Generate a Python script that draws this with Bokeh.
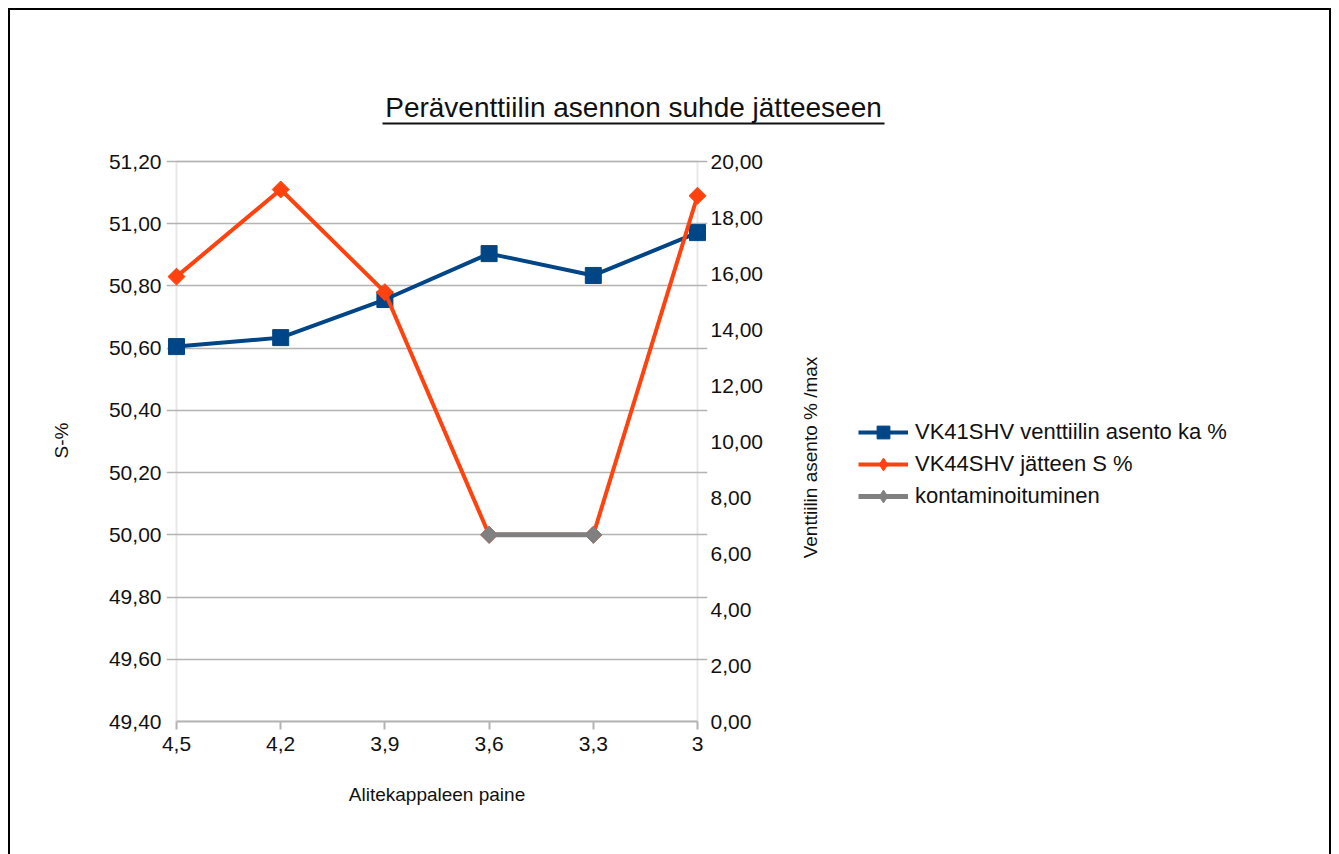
from bokeh.plotting import figure
from bokeh.layouts import column, row
from bokeh.models import (Range1d, LinearAxis, FixedTicker, CustomJSTickFormatter,
                          Legend, LegendItem, Label, BoxAnnotation)
from bokeh.embed import file_html
from bokeh.resources import INLINE
import math

# ---- data ----
pressure = [4.5, 4.2, 3.9, 3.6, 3.3, 3.0]          # Alitekappaleen paine
valve_pos = [13.39, 13.71, 15.07, 16.71, 15.93, 17.46]  # VK41SHV venttiilin asento ka % (right axis)
waste_s = [50.83, 51.11, 50.78, 50.00, 50.00, 51.09]    # VK44SHV jätteen S % (left axis)
contam_x = [3.6, 3.3]
contam_y = [50.00, 50.00]                           # kontaminoituminen
left_ticks = [49.4, 49.6, 49.8, 50.0, 50.2, 50.4, 50.6, 50.8, 51.0, 51.2]
right_ticks = [0, 2, 4, 6, 8, 10, 12, 14, 16, 18, 20]

title_text = "Peräventtiilin asennon suhde jätteeseen"
labels = ["VK41SHV venttiilin asento ka %", "VK44SHV jätteen S %", "kontaminoituminen"]
right_axis_title = "Venttiilin asento % /max"

FONT = "Liberation Sans"
BLUE = "#004586"
ORANGE = "#ff420e"
GRAY = "#808080"
AXIS_GRAY = "#b3b3b3"
TXT = "#111111"

X_LO, X_HI = 3.0, 4.5
Y_LO, Y_HI = 49.4, 51.2
R_LO, R_HI = 0, 20
px_x = (X_HI - X_LO) / 521.0
px_y = (Y_HI - Y_LO) / 560.0
px_r = (R_HI - R_LO) / 560.0
PAD = 10      # horizontal padding so edge markers are not clipped
TPAD = 2

TOTAL_W = 1319
TITLE_H = 120
MAIN_W = 780
MAIN_H = 724

# ---------- title strip ----------
t = figure(width=TOTAL_W, height=TITLE_H, x_range=Range1d(0, 1), y_range=Range1d(0, 1),
           x_axis_type=None, y_axis_type=None, output_backend="svg", toolbar_location=None,
           min_border=0)
t.outline_line_color = None
t.grid.visible = False
t.add_layout(Label(x=623, y=23, x_units="screen", y_units="screen", text=title_text,
                   text_font=FONT, text_font_size="28px", text_align="center",
                   text_baseline="middle", text_color=TXT))
t.add_layout(BoxAnnotation(left=372, right=874, top=8, bottom=6,
                           left_units="screen", right_units="screen",
                           top_units="screen", bottom_units="screen",
                           fill_color=TXT, fill_alpha=1, line_color=None))

# ---------- main chart ----------
p = figure(width=MAIN_W, height=MAIN_H,
           x_range=Range1d(X_HI + PAD * px_x, X_LO - PAD * px_x),
           y_range=Range1d(Y_LO, Y_HI + TPAD * px_y),
           output_backend="svg", toolbar_location=None,
           min_border_left=156, min_border_right=MAIN_W - 156 - 541,
           min_border_top=29, min_border_bottom=133)
p.outline_line_color = None
p.extra_y_ranges = {"right": Range1d(R_LO, R_HI + TPAD * px_r)}

yfmt = CustomJSTickFormatter(code="return tick.toFixed(2).replace('.', ',');")
xfmt = CustomJSTickFormatter(code=(
    "return (Math.abs(tick - Math.round(tick)) < 1e-9) ? Math.round(tick).toString()"
    " : tick.toFixed(1).replace('.', ',');"))

def style_axis(ax):
    ax.axis_line_color = AXIS_GRAY
    ax.axis_line_width = 2
    ax.major_tick_line_color = AXIS_GRAY
    ax.major_tick_line_width = 2
    ax.major_tick_out = 8
    ax.major_tick_in = 0
    ax.minor_tick_line_color = None
    ax.major_label_text_font = FONT
    ax.major_label_text_font_size = "21px"
    ax.major_label_text_color = TXT
    ax.axis_label_text_font = FONT
    ax.axis_label_text_font_size = "19px"
    ax.axis_label_text_font_style = "normal"
    ax.axis_label_text_color = TXT

xa = p.xaxis[0]
xa.ticker = FixedTicker(ticks=pressure)
xa.formatter = xfmt
xa.axis_label = "Alitekappaleen paine"
xa.bounds = (X_LO, X_HI)
style_axis(xa)
xa.major_label_standoff = 7
xa.axis_label_standoff = 30

ya = p.yaxis[0]
ya.ticker = FixedTicker(ticks=left_ticks)
ya.formatter = yfmt
ya.axis_label = "S-%"
ya.bounds = (Y_LO, Y_HI)
style_axis(ya)
ya.axis_line_color = None
ya.major_tick_line_color = None
ya.major_tick_out = 0
ya.major_label_standoff = 5
ya.axis_label_standoff = 34

ra = LinearAxis(y_range_name="right", ticker=FixedTicker(ticks=right_ticks),
                formatter=yfmt, bounds=(R_LO, R_HI))
style_axis(ra)
ra.axis_line_color = None
ra.major_tick_line_color = None
ra.major_tick_out = 0
ra.major_label_standoff = 3
p.add_layout(ra, "right")

p.xgrid.grid_line_color = None
p.ygrid.ticker = FixedTicker(ticks=left_ticks)
p.ygrid.grid_line_color = AXIS_GRAY
p.ygrid.grid_line_width = 1.5

# plot-area outline (vertical axis lines)
p.add_layout(BoxAnnotation(left=X_HI, right=X_LO, bottom=Y_LO, top=Y_HI,
                           fill_alpha=0, line_color=AXIS_GRAY, line_width=2,
                           level="underlay"))

p.line(pressure, valve_pos, y_range_name="right", line_color=BLUE, line_width=4)
p.scatter(pressure, valve_pos, y_range_name="right", marker="square", size=16,
          fill_color=BLUE, line_color=BLUE)
p.line(pressure, waste_s, line_color=ORANGE, line_width=4)
p.scatter(pressure, waste_s, marker="square", angle=math.pi / 4, size=12,
          fill_color=ORANGE, line_color=ORANGE)
p.line(contam_x, contam_y, line_color=GRAY, line_width=5)
p.scatter(contam_x, contam_y, marker="square", angle=math.pi / 4, size=12,
          fill_color=GRAY, line_color=GRAY)

# ---------- right-axis title + legend panel ----------
nan = float("nan")
lg = figure(width=TOTAL_W - MAIN_W, height=MAIN_H, x_range=Range1d(0, 1),
            y_range=Range1d(0, 1), x_axis_type=None, y_axis_type=None,
            output_backend="svg", toolbar_location=None, min_border=0)
lg.outline_line_color = None
lg.grid.visible = False

lg.add_layout(Label(x=20, y=264, x_units="screen", y_units="screen",
                    text=right_axis_title, angle=math.pi / 2,
                    text_font=FONT, text_font_size="19px", text_align="center",
                    text_baseline="middle", text_color=TXT))

k1l = lg.line([nan], [nan], line_color=BLUE, line_width=4)
k1m = lg.scatter([nan], [nan], marker="square", fill_color=BLUE, line_color=BLUE)
k2l = lg.line([nan], [nan], line_color=ORANGE, line_width=4)
k2m = lg.scatter([nan], [nan], marker="diamond", fill_color=ORANGE, line_color=ORANGE)
k3l = lg.line([nan], [nan], line_color=GRAY, line_width=5)
k3m = lg.scatter([nan], [nan], marker="diamond", fill_color=GRAY, line_color=GRAY)
legend = Legend(items=[LegendItem(label=labels[0], renderers=[k1l, k1m]),
                       LegendItem(label=labels[1], renderers=[k2l, k2m]),
                       LegendItem(label=labels[2], renderers=[k3l, k3m])],
                location=(68, 209), glyph_width=50, glyph_height=32, label_height=32,
                spacing=0, label_standoff=7, padding=0, margin=0,
                border_line_color=None, background_fill_alpha=0,
                label_text_font=FONT, label_text_font_size="22px",
                label_text_color=TXT)
lg.add_layout(legend)

layout = column(t, row(p, lg, spacing=0), spacing=0)
layout.styles = {"margin-left": "8px", "margin-top": "8px",
                 "border-top": "2px solid black", "border-left": "2px solid black",
                 "border-right": "2px solid black"}

open("out.html", "w").write(file_html(layout, INLINE))
